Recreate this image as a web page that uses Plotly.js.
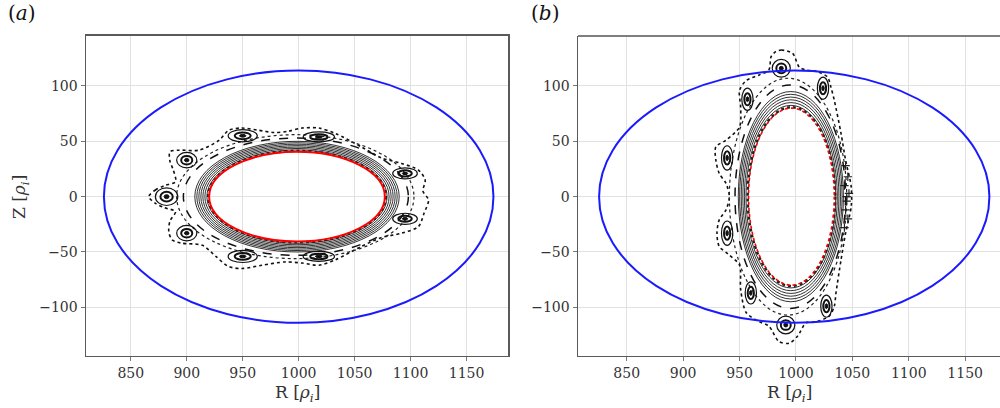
<!DOCTYPE html>
<html><head><meta charset="utf-8">
<script src="https://cdn.plot.ly/plotly-3.0.1.min.js"></script>
<style>html,body{margin:0;padding:0;background:#fff}#plot{width:1000px;height:408px}</style>
</head><body><div id="plot"></div><script>
// ---------- data ----------
const rTicks = [850, 900, 950, 1000, 1050, 1100, 1150];
const zTicks = [-100, -50, 0, 50, 100];
const panelLabels = ['(a)', '(b)'];

// wall (blue) ellipse per panel
const wallCenterR = [1000, 998.5];
const wallSemiR = [174, 173];
const wallSemiZ = [114, 114];

// last closed surface (red) per panel
const redCenterR = [998.5, 996];
const redSemiR = [78.5, 38];
const redSemiZ = [40.5, 80];

// nested flux surfaces
const nestCenterA = 998.5;
const nestSemiRA = [80.5, 82.3, 84.1, 85.9, 87.7, 89.5, 91.3];
const nestSemiZA = [42.2, 43.5, 44.8, 46.1, 47.4, 48.7, 50];
const nestCenterB = 995.5;
const nestSemiRB = [39.8, 41.2, 42.6, 44, 45.4, 46.6];
const nestSemiZB = [82.5, 85, 87.5, 90, 92.5, 95];

// dashed surface and inner separatrix
const dashCenterR = [997.5, 995];
const dashSemiR = [100.5, 49];
const dashSemiZ = [53, 101];
const sepCenterR = [997, 993];
const sepSemiR = [106, 52];
const sepSemiZ = [56, 107];

// island chains
const islandRA = [882, 900, 900, 950, 950, 1018, 1018, 1095, 1095];
const islandZA = [0, 33, -33, 55, -54, 54, -54, 21, -20];
const islandHwA = [10, 9, 9, 13, 13, 14, 14, 11, 11];
const islandHhA = [8, 7, 7, 5.5, 5.5, 4.5, 4.5, 5, 5];
const islandRB = [987, 1024, 957, 939, 939, 960, 1027, 991];
const islandZB = [116, 98, 88, 35, -33, -87, -99, -116];
const islandHwB = [8, 5, 5, 5, 5, 5, 5, 8];
const islandHhB = [8, 10, 10, 11, 11, 10, 10, 8];

// outer chaotic boundary
const boundRA = [866, 872, 880, 890, 888, 885, 885, 893, 911, 929, 937.5, 949, 964, 978, 990, 1003, 1018, 1033, 1056, 1074, 1092, 1107, 1113, 1111, 1116, 1112, 1107, 1092, 1074, 1056, 1033, 1018, 1003, 988, 967, 949, 937, 926, 914, 895, 887, 884, 885, 890, 880, 872, 866];
const boundZA = [0, 6, 10, 13.5, 24, 32, 40.6, 42, 42, 51, 60, 62, 60, 58, 59, 62, 62, 57, 45, 35, 30, 24, 15, 5, -3, -15, -27, -33, -37, -45, -57, -62, -60, -59, -62, -65, -63, -54, -44, -42, -39, -32, -22, -13.5, -10, -6, 0];
const boundRB = [982, 987, 997, 1003, 1009, 1019, 1028, 1031, 1034, 1040, 1044, 1049, 1049, 1044, 1040, 1035.5, 1034, 1029.5, 1018, 1009, 1001.5, 994, 985, 976, 967.5, 956, 951, 950, 940, 932, 930, 932, 938, 941, 938, 932, 929, 929, 938, 950, 951, 950, 956, 967.5, 976, 978, 982];
const boundZB = [131, 132.5, 129.5, 117, 114.5, 113, 108, 99, 87, 57, 33, 9, -9, -33, -57, -87, -99, -108, -113, -114, -126, -132.5, -131, -117, -113, -105, -84, -62, -52, -45, -33, -21, -12, 0, 12, 21, 33, 45, 51, 63, 81, 96, 105, 110, 114.5, 126.5, 131];

// stochastic points on the right of panel (b)
const noiseRB = [1044, 1046, 1043, 1047, 1045, 1044, 1046, 1043, 1045];
const noiseZB = [28, 18, 10, 3, -4, -12, -20, -28, 0];

// ---------- building ----------
const shapes = [];
function ell(xr, yr, c, a, b, line) {
  shapes.push({type: 'circle', xref: xr, yref: yr, x0: c - a, x1: c + a, y0: -b, y1: b,
    line: line, layer: 'above'});
}
function ellAt(xr, yr, cx, cy, a, b, line, fill) {
  const s = {type: 'circle', xref: xr, yref: yr, x0: cx - a, x1: cx + a, y0: cy - b, y1: cy + b,
    line: line, layer: 'above'};
  if (fill) s.fillcolor = fill;
  shapes.push(s);
}
const refs = [['x', 'y'], ['x2', 'y2']];
const nest = [[nestCenterA, nestSemiRA, nestSemiZA], [nestCenterB, nestSemiRB, nestSemiZB]];
const isl = [[islandRA, islandZA, islandHwA, islandHhA], [islandRB, islandZB, islandHwB, islandHhB]];

for (let p = 0; p < 2; p++) {
  const [xr, yr] = refs[p];
  const [nc, nsr, nsz] = nest[p];
  for (let i = 0; i < nsr.length; i++) ell(xr, yr, nc, nsr[i], nsz[i], {color: '#1a1a1a', width: 0.9});
  ell(xr, yr, dashCenterR[p], dashSemiR[p], dashSemiZ[p], {color: '#111', width: 1.5, dash: 'dash'});
  ell(xr, yr, sepCenterR[p], sepSemiR[p], sepSemiZ[p], {color: '#222', width: 1.2, dash: 'dot'});
  const [ir, iz, iw, ih] = isl[p];
  for (let i = 0; i < ir.length; i++) {
    ellAt(xr, yr, ir[i], iz[i], iw[i], ih[i], {color: '#111', width: 1.2});
    ellAt(xr, yr, ir[i], iz[i], iw[i] * 0.55, ih[i] * 0.55, {color: '#111', width: 2});
    ellAt(xr, yr, ir[i], iz[i], iw[i] * 0.22, ih[i] * 0.22, {color: '#111', width: 1}, '#111');
  }
  ell(xr, yr, redCenterR[p], redSemiR[p] + 0.8, redSemiZ[p] + 0.8, {color: '#222', width: 2.5, dash: 'dot'});
  ell(xr, yr, redCenterR[p], redSemiR[p], redSemiZ[p], {color: 'red', width: p === 0 ? 2 : 1.6, dash: p === 0 ? 'solid' : 'dot'});
  ell(xr, yr, wallCenterR[p], wallSemiR[p], wallSemiZ[p], {color: '#1a1aff', width: 2});
}
shapes.push({type: 'line', xref: 'x2 domain', yref: 'y2 domain', x0: 0, x1: 1, y0: 1, y1: 1,
  line: {color: '#555', width: 1.5}, layer: 'above'});

const traces = [
  {x: boundRA, y: boundZA, xaxis: 'x', yaxis: 'y', mode: 'lines', type: 'scatter',
   line: {color: '#111', width: 1.6, dash: 'dot', shape: 'spline', smoothing: 0.8}, hoverinfo: 'skip'},
  {x: boundRB, y: boundZB, xaxis: 'x2', yaxis: 'y2', mode: 'lines', type: 'scatter',
   line: {color: '#111', width: 1.6, dash: 'dot', shape: 'spline', smoothing: 0.8}, hoverinfo: 'skip'},
  {x: noiseRB, y: noiseZB, xaxis: 'x2', yaxis: 'y2', mode: 'markers', type: 'scatter',
   marker: {symbol: 'cross-thin', size: 6, line: {color: '#222', width: 1.2}}, hoverinfo: 'skip'}
];

const serif = 'DejaVu Serif, Liberation Serif, serif';
const tickFont = {family: serif, size: 14, color: '#333'};
function xax(domain, range, anchor, mirror) {
  return {domain, range, anchor, tickmode: 'array', tickvals: rTicks, ticks: 'outside', ticklen: 4,
    tickcolor: '#777', gridcolor: '#e2e2e2', gridwidth: 1, showline: true, linecolor: '#5a5a5a',
    linewidth: 1.5, mirror, zeroline: false, tickfont: tickFont, fixedrange: true};
}
function yax(anchor, mirror) {
  return {domain: [0.1275, 0.9118], range: [-144, 145.2], anchor, tickmode: 'array', tickvals: zTicks,
    ticks: 'outside', ticklen: 4, tickcolor: '#777', gridcolor: '#e2e2e2', gridwidth: 1, showline: true,
    linecolor: '#5a5a5a', linewidth: 1.5, mirror, zeroline: false, tickfont: tickFont, fixedrange: true};
}
const titleFont = {family: serif, size: 17, color: '#333'};
const rTitle = 'R [<i>ρ</i><sub><i>i</i></sub>]';
const layout = {
  width: 1000, height: 408, margin: {l: 0, r: 0, t: 0, b: 0},
  paper_bgcolor: '#fff', plot_bgcolor: '#fff', showlegend: false,
  xaxis: xax([0.086, 0.508], [810, 1187], 'y', true),
  yaxis: yax('x', true),
  xaxis2: xax([0.578, 1], [806.8, 1180.9], 'y2', false),
  yaxis2: yax('x2', false),
  shapes,
  annotations: [
    {text: rTitle, x: 0.297, y: 1 - 393 / 408, xref: 'paper', yref: 'paper', showarrow: false,
     xanchor: 'center', yanchor: 'middle', font: titleFont},
    {text: rTitle, x: 0.789, y: 1 - 393 / 408, xref: 'paper', yref: 'paper', showarrow: false,
     xanchor: 'center', yanchor: 'middle', font: titleFont},
    {text: 'Z [<i>ρ</i><sub><i>i</i></sub>]', x: 0.020, y: 1 - 197 / 408, xref: 'paper', yref: 'paper',
     showarrow: false, textangle: -90, xanchor: 'center', yanchor: 'middle', font: titleFont},
    {text: '(<i>a</i>)', x: 0.022, y: 1 - 13 / 408, xref: 'paper', yref: 'paper', showarrow: false,
     xanchor: 'center', yanchor: 'middle', font: {family: serif, size: 20, color: '#111'}},
    {text: '(<i>b</i>)', x: 0.545, y: 1 - 13 / 408, xref: 'paper', yref: 'paper', showarrow: false,
     xanchor: 'center', yanchor: 'middle', font: {family: serif, size: 20, color: '#111'}}
  ]
};
Plotly.newPlot('plot', traces, layout, {staticPlot: true, displayModeBar: false});
</script></body></html>
